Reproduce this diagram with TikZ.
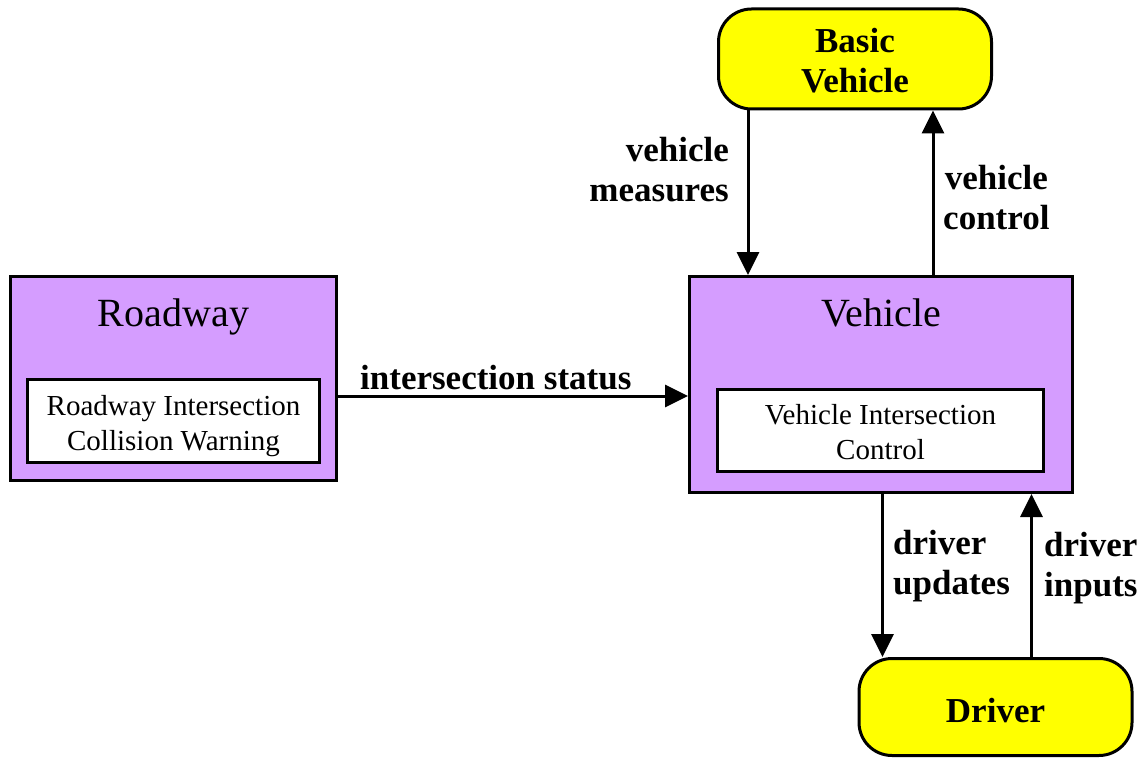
\documentclass[tikz,border=0pt]{standalone}
\usepackage{fontspec}
\setmainfont{Liberation Serif}
\usetikzlibrary{arrows.meta,calc}
\definecolor{boxpurple}{RGB}{213,157,255}
\definecolor{termyellow}{RGB}{255,255,0}
\begin{document}
\begin{tikzpicture}[x=1pt,y=-1pt,
  ext/.style={draw=black,line width=3pt,fill=boxpurple,inner sep=0pt},
  inner/.style={draw=black,line width=3pt,fill=white,inner sep=0pt},
  innertext/.style={align=center,inner sep=0pt,font=\fontsize{29}{35}\selectfont},
  title/.style={font=\fontsize{40}{46}\selectfont,anchor=base},
  term/.style={draw=black,line width=3pt,fill=termyellow,rounded corners=33pt,inner sep=0pt},
  termtext/.style={align=center,inner sep=0pt,font=\fontsize{35}{40}\selectfont\bfseries},
  lbl/.style={font=\fontsize{35}{40}\selectfont\bfseries,inner sep=0pt},
  arr/.style={line width=3pt,-{Triangle[length=23pt,width=22pt]}}]
\useasboundingbox (0,0) rectangle (1142,759);
% boxes
\node[ext,minimum width=326pt,minimum height=204pt] (road) at (173.5,378.5) {};
\node[inner,minimum width=292pt,minimum height=83pt] (roadin) at (173.5,421) {};
\node[innertext] (roadintext) at (173.5,426) {Roadway Intersection\\Collision Warning};
\node[title] (roadt) at (173.5,326) {Roadway};
\node[ext,minimum width=383pt,minimum height=216pt] (veh) at (881,384.5) {};
\node[inner,minimum width=326pt,minimum height=82pt] (vehin) at (880.5,430.5) {};
\node[innertext] (vehintext) at (880.5,432) {Vehicle Intersection\\Control};
\node[title] (veht) at (881,326) {Vehicle};
\node[term,minimum width=273pt,minimum height=100pt] (bv) at (855,59) {};
\node[termtext] (bvtext) at (855,61) {Basic\\Vehicle};
\node[term,minimum width=273pt,minimum height=97pt] (drv) at (995.5,707) {};
\node[termtext] (drvtext) at (995.5,711) {Driver};
% connectors
\draw[arr] ([xshift=31pt]bv.south west) -- ([xshift=31pt]bv.south west |- veh.north);
\draw[arr] ([xshift=216pt]bv.south west |- veh.north) -- ([xshift=216pt]bv.south west);
\draw[arr] ([yshift=-17.5pt]road.east) -- ([yshift=-17.5pt]road.east -| veh.west);
\draw[arr] ([xshift=25pt]drv.north west |- veh.south) -- ([xshift=25pt]drv.north west);
\draw[arr] ([xshift=174pt]drv.north west) -- ([xshift=174pt]drv.north west |- veh.south);
% labels
\node[lbl,align=right,anchor=east] (lvm) at (729,170) {vehicle\\measures};
\node[lbl,align=center,anchor=west] (lvc) at (943,198) {vehicle\\control};
\node[lbl,anchor=base west] (lis) at (360,389) {intersection status};
\node[lbl,align=left,anchor=west] (ldu) at (893,566) {driver\\updates};
\node[lbl,align=left,anchor=west] (ldi) at (1044,568) {driver\\inputs};
\end{tikzpicture}
\end{document}
